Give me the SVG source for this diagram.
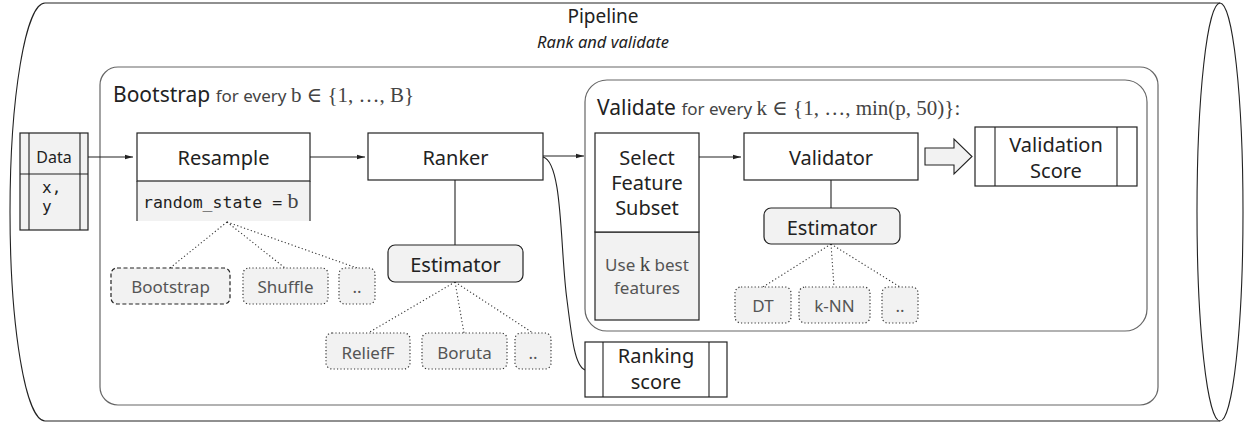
<svg xmlns="http://www.w3.org/2000/svg" width="1248" height="423" viewBox="0 0 1248 423">
<defs>
<style>
text{font-family:"Noto Sans","DejaVu Sans",sans-serif;fill:#222}
.c{text-anchor:middle}
.box{fill:#fff;stroke:#222;stroke-width:1.2}
.gbox{fill:#f2f2f2;stroke:#222;stroke-width:1.2}
.cont{fill:#fff;stroke:#666;stroke-width:1.2}
.opt{fill:#f2f2f2;stroke:#333;stroke-width:1.2;stroke-dasharray:1.2 2.2}
.dash{fill:#f2f2f2;stroke:#222;stroke-width:1.2;stroke-dasharray:4 2.5}
.dot{fill:none;stroke:#333;stroke-width:1.1;stroke-dasharray:1.2 2.4}
.ln{fill:none;stroke:#222;stroke-width:1.1}
.m{font-family:"Liberation Serif","DejaVu Serif",serif;fill:#444}
.mono{font-family:"DejaVu Sans Mono","Liberation Mono",monospace}
.gt{fill:#555}
.lbl{font-size:20px}
.sm{font-size:17px}
</style>
<marker id="ah" viewBox="0 0 8 6" refX="8" refY="3" markerWidth="8" markerHeight="6" markerUnits="userSpaceOnUse" orient="auto"><path d="M0,0.8 L8,3 L0,5.2 z" fill="#222"/></marker>
</defs>

<g id="pipeline">
<path d="M45,3 L1220,3 M45,421 L1220,421" class="ln"/>
<path d="M45,3 A35,209 0 0 0 45,421" class="ln"/>
<ellipse cx="1220" cy="212" rx="23" ry="209" class="ln"/>
<text x="603" y="23" class="c" font-size="19">Pipeline</text>
<text x="603" y="48" class="c" font-size="16.5" font-style="italic">Rank and validate</text>
</g>

<g id="bootstrap">
<rect x="100" y="67" width="1058" height="338" rx="18" class="cont"/>
<text x="113" y="102" font-size="21">Bootstrap <tspan font-size="17" fill="#444">for every </tspan><tspan class="m" font-size="21">b ∈ {1, …, B}</tspan></text>
</g>

<g id="validate">
<rect x="585" y="80" width="562" height="251" rx="22" class="cont"/>
<text x="597" y="115" font-size="21">Validate <tspan font-size="17" fill="#444">for every </tspan><tspan class="m" font-size="21">k ∈ {1, …, min(p, 50)}:</tspan></text>
</g>

<g id="connectors">
<path d="M88,157 L133,157" class="ln" marker-end="url(#ah)"/>
<path d="M310,157 L365,157" class="ln" marker-end="url(#ah)"/>
<path d="M543,156 L584,156" class="ln" marker-end="url(#ah)"/>
<path d="M698,157 L741,157" class="ln" marker-end="url(#ah)"/>
<path d="M543,157 C563,162 560,250 567,300 C572,340 575,366 585,370" class="ln"/>
<path d="M455,180 L455,245" class="ln"/>
<path d="M831,180 L831,208" class="ln"/>
<path d="M227,222 L170,268 M227,222 L285,268 M227,222 L357,268" class="dot"/>
<path d="M455,282 L368,333 M455,282 L464,333 M455,282 L533,333" class="dot"/>
<path d="M831,244 L763,287 M831,244 L834,287 M831,244 L900,287" class="dot"/>
<path d="M925,148 L954,148 L954,139 L972,156.5 L954,174 L954,165 L925,165 Z" fill="#f2f2f2" stroke="#222" stroke-width="1.1"/>
</g>

<g id="data">
<rect x="20" y="133" width="68" height="97" class="gbox"/>
<path d="M29,133 V230 M80,133 V230 M20,174 H88" class="ln"/>
<text x="54" y="163" class="c" font-size="16">Data</text>
<text x="42" y="193" font-size="16" class="mono">x,</text>
<text x="42" y="212" font-size="16" class="mono">y</text>
</g>

<g id="resample">
<rect x="137" y="181" width="173" height="40" fill="#f2f2f2"/>
<path d="M137,221 V181 M310,181 V221" class="ln"/>
<rect x="137" y="133" width="173" height="48" class="box"/>
<text x="223.5" y="165" class="c lbl">Resample</text>
<text x="143" y="208" font-size="16.5" class="mono" fill="#333">random_state =<tspan class="m" font-size="22" fill="#333"> b</tspan></text>
</g>

<g id="ranker">
<rect x="368" y="133" width="175" height="47" class="box"/>
<text x="455.5" y="165" class="c lbl">Ranker</text>
</g>

<g id="ranker-estimator">
<rect x="388" y="245" width="135" height="37" rx="7" class="gbox"/>
<text x="455.5" y="272" class="c lbl">Estimator</text>
</g>

<g id="opt-bootstrap">
<rect x="111" y="268" width="119" height="36" rx="6" class="dash"/>
<text x="170.5" y="293" class="c gt sm">Bootstrap</text>
</g>
<g id="opt-shuffle">
<rect x="243" y="268" width="85" height="36" rx="6" class="opt"/>
<text x="285.5" y="293" class="c gt sm">Shuffle</text>
</g>
<g id="opt-resample-more">
<rect x="339" y="268" width="36" height="36" rx="6" class="opt"/>
<text x="357" y="293" class="c gt sm">..</text>
</g>

<g id="opt-relieff">
<rect x="326" y="333" width="84" height="36" rx="6" class="opt"/>
<text x="368" y="359" class="c gt sm">ReliefF</text>
</g>
<g id="opt-boruta">
<rect x="422" y="333" width="85" height="36" rx="6" class="opt"/>
<text x="464.5" y="359" class="c gt sm">Boruta</text>
</g>
<g id="opt-ranker-more">
<rect x="515" y="333" width="36" height="36" rx="6" class="opt"/>
<text x="533" y="359" class="c gt sm">..</text>
</g>

<g id="select">
<rect x="595" y="232" width="104" height="88" class="gbox"/>
<rect x="595" y="133" width="104" height="99" class="box"/>
<text x="647" y="165" class="c lbl">Select</text>
<text x="647" y="190" class="c lbl">Feature</text>
<text x="647" y="215" class="c lbl">Subset</text>
<text x="647" y="271" class="c gt sm">Use <tspan class="m" font-size="21" fill="#555">k</tspan> best</text>
<text x="647" y="294" class="c gt sm">features</text>
</g>

<g id="validator">
<rect x="744" y="133" width="174" height="47" class="box"/>
<text x="831" y="165" class="c lbl">Validator</text>
</g>

<g id="validator-estimator">
<rect x="764" y="208" width="136" height="36" rx="7" class="gbox"/>
<text x="832" y="235" class="c lbl">Estimator</text>
</g>

<g id="opt-dt">
<rect x="735" y="287" width="56" height="36" rx="6" class="opt"/>
<text x="763" y="312" class="c gt sm">DT</text>
</g>
<g id="opt-knn">
<rect x="799" y="287" width="71" height="36" rx="6" class="opt"/>
<text x="834.5" y="312" class="c gt sm">k-NN</text>
</g>
<g id="opt-validator-more">
<rect x="882" y="287" width="36" height="36" rx="6" class="opt"/>
<text x="900" y="312" class="c gt sm">..</text>
</g>

<g id="validation-score">
<rect x="975" y="127" width="162" height="59" class="box"/>
<path d="M995,127 V186 M1117,127 V186" class="ln"/>
<text x="1056" y="152" class="c lbl">Validation</text>
<text x="1056" y="178" class="c lbl">Score</text>
</g>

<g id="ranking-score">
<rect x="585" y="342" width="142" height="55" class="box"/>
<path d="M603,342 V397 M709,342 V397" class="ln"/>
<text x="656" y="363" class="c lbl">Ranking</text>
<text x="656" y="389" class="c lbl">score</text>
</g>
</svg>
